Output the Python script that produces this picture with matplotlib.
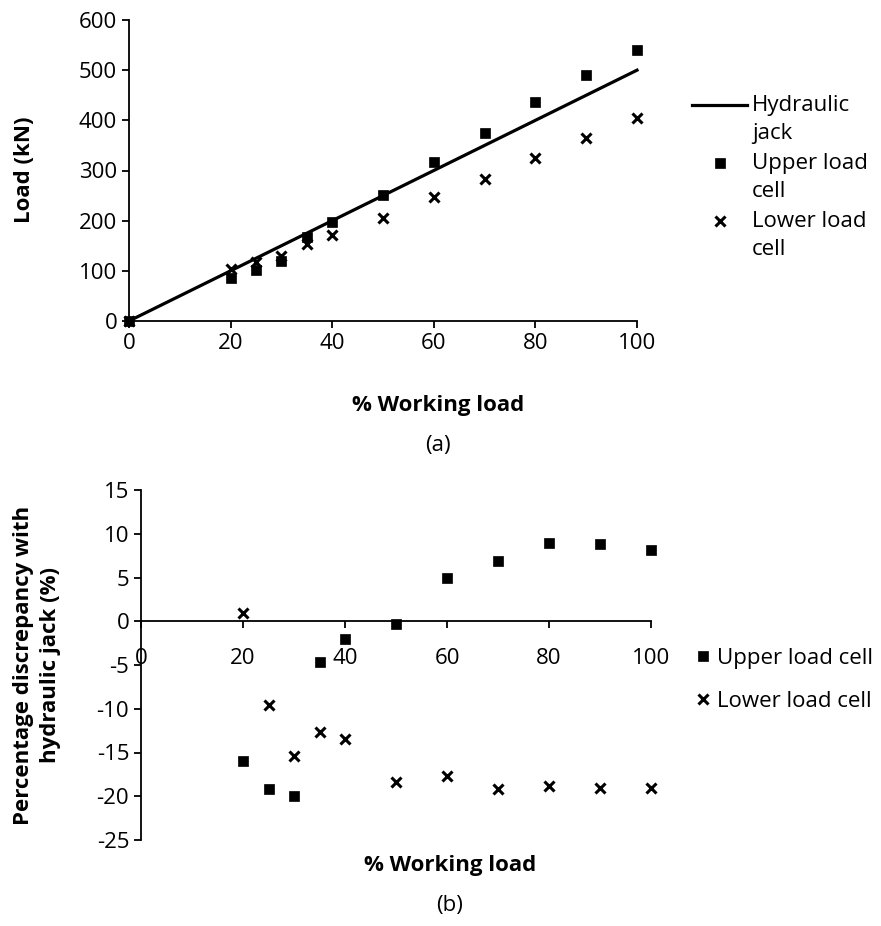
import numpy as np
import matplotlib
matplotlib.use("Agg")
import matplotlib.pyplot as plt
from matplotlib.lines import Line2D
from matplotlib.legend_handler import HandlerLine2D

# data
pct_load = [0, 20, 25, 30, 35, 40, 50, 60, 70, 80, 90, 100]
jack_load = [0, 100, 125, 150, 175, 200, 250, 300, 350, 400, 450, 500]
upper_load = [0, 86, 101, 120, 167, 197, 251, 316, 374, 436, 490, 541]
lower_load = [0, 103, 118, 130, 153, 172, 205, 248, 283, 325, 364, 405]

pct_disc = [20, 25, 30, 35, 40, 50, 60, 70, 80, 90, 100]
upper_disc = [-16.0, -19.2, -20.0, -4.6, -2.0, -0.35, 5.0, 6.9, 9.0, 8.8, 8.1]
lower_disc = [1.0, -9.6, -15.4, -12.6, -13.5, -18.4, -17.7, -19.2, -18.8, -19.1, -19.05]

plt.rcParams['font.family'] = ['Open Sans', 'DejaVu Sans']
plt.rcParams['axes.unicode_minus'] = False
FS = 16

W, H = 881, 926
fig = plt.figure(figsize=(W / 100, H / 100), dpi=100)

def fx(px):
    return px / W

def fy(py):
    return 1 - py / H

def style_axes(ax):
    for s in ['top', 'right']:
        ax.spines[s].set_visible(False)
    for s in ['left', 'bottom']:
        ax.spines[s].set_linewidth(1.3)
    ax.tick_params(direction='out', length=5, width=1.3, labelsize=FS)


class FirstLineHandler(HandlerLine2D):
    # put the legend symbol level with the first line of a two-line label
    def __init__(self, shift, **kw):
        super().__init__(**kw)
        self.shift = shift

    def create_artists(self, legend, orig_handle, xdescent, ydescent, width, height,
                       fontsize, trans):
        arts = super().create_artists(legend, orig_handle, xdescent, ydescent, width,
                                      height, fontsize, trans)
        for a in arts:
            if isinstance(a, Line2D):
                a.set_ydata(np.asarray(a.get_ydata(), dtype=float) + self.shift)
        return arts


sq = dict(marker='s', linestyle='none', color='black', markersize=7.6, markeredgewidth=0.5,
          clip_on=False)
xx = dict(marker='x', linestyle='none', color='black', markersize=7, markeredgewidth=2.2,
          clip_on=False)

# (a) load vs working load
ax1 = fig.add_axes([fx(129), fy(321), fx(637) - fx(129), fy(20) - fy(321)])
l1, = ax1.plot(pct_load, jack_load, color='black', linewidth=2.3, label='Hydraulic\njack',
               clip_on=False)
l2, = ax1.plot(pct_load, upper_load, label='Upper load\ncell', **sq)
l3, = ax1.plot(pct_load, lower_load, label='Lower load\ncell', **xx)
ax1.set_xlim(0, 100)
ax1.set_ylim(0, 600)
ax1.set_xticks(range(0, 101, 20))
ax1.set_yticks(range(0, 601, 100))
style_axes(ax1)

hm = {l1: FirstLineHandler(10.8), l2: FirstLineHandler(10.8), l3: FirstLineHandler(10.8)}
leg1 = ax1.legend(loc='upper left', bbox_to_anchor=(fx(692), fy(95)),
                  bbox_transform=fig.transFigure, frameon=False, handlelength=2.48,
                  handletextpad=0.22, fontsize=FS, borderaxespad=0, borderpad=0,
                  labelspacing=0.42, handler_map=hm)
for t in leg1.get_texts():
    t.set_linespacing(1.43)

fig.text(fx(25), fy(170), 'Load (kN)', rotation=90, ha='center', va='center',
         fontsize=FS, fontweight='bold')
fig.text(fx(438), fy(405), '% Working load', ha='center', va='center',
         fontsize=FS, fontweight='bold')
fig.text(fx(438), fy(445), '(a)', ha='center', va='center', fontsize=FS)

# (b) discrepancy
ax2 = fig.add_axes([fx(141), fy(840), fx(651) - fx(141), fy(490) - fy(840)])
ax2.plot(pct_disc, upper_disc, label='Upper load cell', **sq)
ax2.plot(pct_disc, lower_disc, label='Lower load cell', **xx)
ax2.set_xlim(0, 100)
ax2.set_ylim(-25, 15)
ax2.set_xticks(range(0, 101, 20))
ax2.set_yticks(range(-25, 16, 5))
style_axes(ax2)
ax2.spines['bottom'].set_position(('data', 0))
ax2.tick_params(axis='x', pad=14)
ax2.legend(loc='upper left', bbox_to_anchor=(fx(692), fy(648)),
           bbox_transform=fig.transFigure, frameon=False, handlelength=1.0,
           handletextpad=0.14, fontsize=FS, borderaxespad=0, borderpad=0,
           labelspacing=1.0)

fig.text(fx(37), fy(665), 'Percentage discrepancy with\nhydraulic jack (%)', rotation=90,
         ha='center', va='center', fontsize=FS, fontweight='bold', linespacing=1.35)
fig.text(fx(450), fy(866), '% Working load', ha='center', va='center',
         fontsize=FS, fontweight='bold')
fig.text(fx(450), fy(906), '(b)', ha='center', va='center', fontsize=FS)

fig.savefig('out.png', dpi=100)
